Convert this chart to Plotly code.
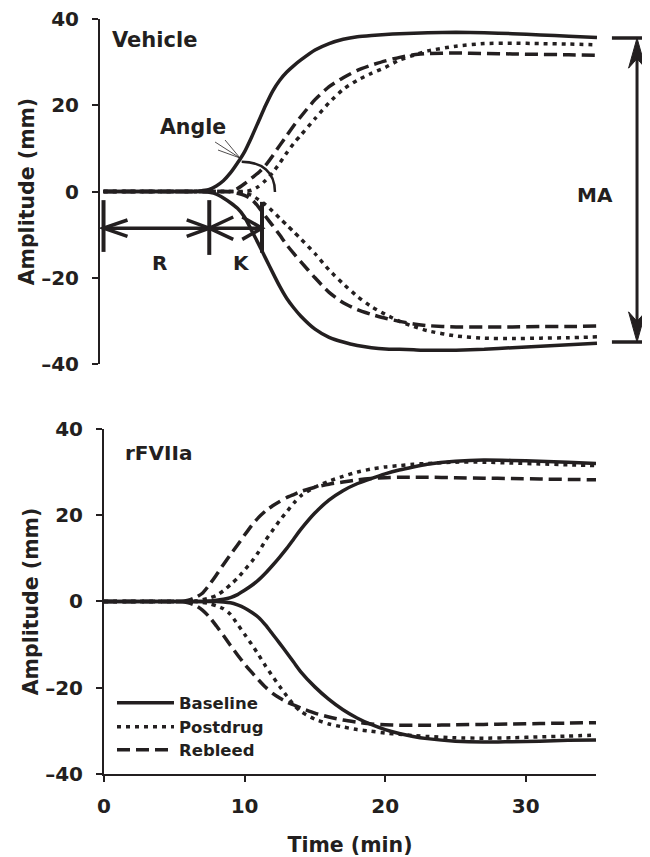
import plotly.graph_objects as go

# ---------------- data ----------------
time_min = [0, 5, 5.5, 6, 6.5, 7, 7.5, 8, 8.5, 9, 9.5, 10, 10.5, 11, 11.5, 12, 12.5,
            13, 13.5, 14, 15, 16, 17, 18, 19, 20, 21, 22, 23, 25, 27, 29, 31, 33, 35]

# Vehicle panel
veh_baseline_upper = [0, 0, 0, 0, 0, 0.2, 0.5, 1.3, 2.5, 4.3, 6.6, 9.2, 12.6, 16.3, 20, 23.3, 25.8,
                      27.7, 29.2, 30.5, 32.8, 34.3, 35.3, 35.9, 36.2, 36.4, 36.6, 36.7, 36.8, 36.9,
                      36.8, 36.6, 36.3, 36.0, 35.7]
veh_baseline_lower = [0, 0, 0, 0, 0, 0, -0.2, -0.6, -1.5, -2.6, -3.9, -5.9, -9, -12.2, -15.5, -18.8,
                      -22, -24.8, -27, -28.9, -31.9, -33.8, -34.9, -35.7, -36.2, -36.5, -36.6, -36.7,
                      -36.8, -36.8, -36.6, -36.2, -35.9, -35.5, -35.2]
veh_postdrug_upper = [0, 0, 0, 0, 0, 0, 0, 0, 0, 0, 0, 0, 0.3, 1.2, 2.6, 4.4, 6.6, 9, 11.2, 13.1,
                      16.9, 20.6, 23.7, 25.8, 27.4, 28.8, 30.5, 31.6, 32.6, 33.7, 34.3, 34.4, 34.3,
                      34.2, 34.0]
veh_postdrug_lower = [0, 0, 0, 0, 0, 0, 0, 0, 0, 0, 0, -0.3, -0.9, -1.9, -3.1, -4.6, -6.2, -7.8, -9.4,
                      -11, -14.4, -18.2, -21.4, -24.3, -26.7, -28.5, -30.1, -31.3, -32.3, -33.5, -34,
                      -34.1, -34, -33.9, -33.7]
veh_rebleed_upper = [0, 0, 0, 0, 0, 0, 0, 0, 0, 0.1, 0.7, 1.8, 3.1, 4.4, 6.1, 8.3, 10.7, 13, 15.3,
                     17.4, 21.3, 24.3, 26.4, 28.1, 29.3, 30.3, 31.1, 31.7, 32.0, 32.1, 32.0, 31.9,
                     31.8, 31.7, 31.6]
veh_rebleed_lower = [0, 0, 0, 0, 0, 0, 0, 0, 0, -0.1, -0.4, -0.9, -1.8, -3.6, -5.8, -7.9, -10.1,
                     -12.4, -14.4, -16.3, -20, -23.4, -25.8, -27.4, -28.5, -29.4, -30.1, -30.7,
                     -31.1, -31.4, -31.4, -31.4, -31.3, -31.3, -31.2]

# rFVIIa panel
rf_baseline_upper = [0, 0, 0, 0, 0, 0, 0.1, 0.3, 0.5, 0.9, 1.6, 2.6, 3.7, 5, 6.6, 8.4, 10.3, 12.3,
                     14.5, 16.7, 20.5, 23.5, 25.7, 27.3, 28.5, 29.6, 30.5, 31.2, 31.8, 32.5, 32.8,
                     32.7, 32.5, 32.3, 32.0]
rf_baseline_lower = [0, 0, 0, 0, 0, 0, 0, 0, -0.1, -0.3, -0.8, -1.5, -2.5, -3.7, -5.5, -7.6, -9.7,
                     -11.9, -14.1, -16.3, -19.8, -22.7, -25.1, -27, -28.5, -29.7, -30.6, -31.3,
                     -31.8, -32.4, -32.6, -32.5, -32.4, -32.2, -32.1]
rf_postdrug_upper = [0, 0, 0, 0, 0.1, 0.4, 0.8, 1.4, 2.5, 3.9, 5.4, 7.3, 9.2, 11.5, 14.2, 16.5, 18.8,
                     20.8, 22.8, 24.5, 26.5, 27.9, 29, 30, 30.7, 31.2, 31.5, 31.8, 32, 32.3, 32.3,
                     32.1, 31.9, 31.7, 31.5]
rf_postdrug_lower = [0, 0, 0, 0, 0, -0.2, -0.5, -1, -1.7, -3, -5.3, -7.6, -9.9, -12.4, -15, -17.4,
                     -19.7, -21.9, -24, -25.5, -27.3, -28.4, -29.1, -29.7, -30.1, -30.5, -30.8,
                     -31.1, -31.3, -31.6, -31.7, -31.6, -31.4, -31.2, -31.0]
rf_rebleed_upper = [0, 0, 0, 0.3, 0.9, 1.9, 3.9, 6.2, 8.6, 10.9, 13.1, 15.4, 17.6, 19.5, 21, 22.2,
                    23.2, 24.1, 24.8, 25.5, 26.5, 27.2, 27.7, 28.2, 28.5, 28.7, 28.8, 28.8, 28.8,
                    28.7, 28.6, 28.5, 28.4, 28.3, 28.2]
rf_rebleed_lower = [0, 0, 0, -0.3, -0.9, -2, -3.6, -5.7, -7.9, -10.2, -12.4, -14.5, -16.4, -18.2,
                    -19.9, -21.3, -22.4, -23.3, -24, -24.7, -25.9, -26.8, -27.5, -28, -28.4, -28.6,
                    -28.7, -28.7, -28.7, -28.6, -28.5, -28.4, -28.3, -28.2, -28.1]

series_names = ["Baseline", "Postdrug", "Rebleed"]
y_tickvals = [-40, -20, 0, 20, 40]
y_ticktext = ["\u201340", "\u201320", "0", "20", "40"]
x_ticks = [0, 10, 20, 30]

# ---------------- styling ----------------
INK = "#231f20"
FONT = "DejaVu Sans, Liberation Sans, Arial, sans-serif"
LW = 3.5
dash_of = {"Baseline": "solid", "Postdrug": "4px,5px", "Rebleed": "13px,6px"}
legend_of = {"Baseline": "legend", "Postdrug": "legend2", "Rebleed": "legend3"}

panels = [
    ("x", "y", {"Baseline": (veh_baseline_upper, veh_baseline_lower),
                "Postdrug": (veh_postdrug_upper, veh_postdrug_lower),
                "Rebleed": (veh_rebleed_upper, veh_rebleed_lower)}),
    ("x2", "y2", {"Baseline": (rf_baseline_upper, rf_baseline_lower),
                  "Postdrug": (rf_postdrug_upper, rf_postdrug_lower),
                  "Rebleed": (rf_rebleed_upper, rf_rebleed_lower)}),
]

fig = go.Figure()
for xa, ya, data in panels:
    for name in series_names:
        up, lo = data[name]
        for k, vals in enumerate((up, lo)):
            fig.add_trace(go.Scatter(
                x=time_min, y=vals, xaxis=xa, yaxis=ya, mode="lines", name=name,
                legendgroup=name, legend=legend_of[name],
                showlegend=(xa == "x2" and k == 0),
                line=dict(color=INK, width=LW, dash=dash_of[name], shape="spline", smoothing=0.6),
                hoverinfo="skip"))

tickfont = dict(family=FONT, size=20, color=INK, weight="bold")
titlefont = dict(family=FONT, size=20.5, color=INK, weight="bold")
axis_common = dict(showline=True, linewidth=2, linecolor=INK, ticks="outside", ticklen=6,
                   tickwidth=2, tickcolor=INK, showgrid=False, zeroline=False, tickfont=tickfont,
                   ticklabeloverflow="allow")

leg_common = dict(xanchor="left", yanchor="middle", bgcolor="rgba(0,0,0,0)",
                  font=dict(family=FONT, size=16.5, color=INK, weight="bold"), itemwidth=57)

fig.update_layout(
    width=642, height=849,
    margin=dict(l=92, r=0, t=11, b=83),
    paper_bgcolor="white", plot_bgcolor="white",
    showlegend=True,
    xaxis=dict(domain=[0, 1], range=[-0.25, 38.76], visible=False, anchor="y"),
    yaxis=dict(domain=[0.543, 1], range=[-40, 40], anchor="x", tickvals=y_tickvals,
               ticktext=y_ticktext, ticklabelstandoff=9,
               title=dict(text="Amplitude (mm)", font=titlefont, standoff=1), **axis_common),
    xaxis2=dict(domain=[0.00727, 0.9018], range=[0, 35], anchor="y2", tickvals=x_ticks,
                ticklabelstandoff=7,
                title=dict(text="Time (min)", font=titlefont, standoff=21), **axis_common),
    yaxis2=dict(domain=[0, 0.457], range=[-40, 40], anchor="x2", tickvals=y_tickvals,
                ticktext=y_ticktext, ticklabelstandoff=9,
                title=dict(text="Amplitude (mm)", font=titlefont, standoff=1), **axis_common),
    legend=dict(x=0.0218, y=0.0940, **leg_common),
    legend2=dict(x=0.0218, y=0.0622, **leg_common),
    legend3=dict(x=0.0218, y=0.0318, **leg_common),
)

# ---------------- annotation graphics in the Vehicle panel ----------------
def seg(x0, y0, x1, y1, w=3.5):
    fig.add_shape(type="line", xref="x", yref="y", x0=x0, y0=y0, x1=x1, y1=y1,
                  line=dict(color=INK, width=w))

def polyline(pts, w=3.5, fill=None, close=False):
    p = "M" + " L".join(f"{a},{b}" for a, b in pts) + (" Z" if close else "")
    fig.add_shape(type="path", xref="x", yref="y", path=p,
                  line=dict(color=INK, width=w), fillcolor=fill if fill else "rgba(0,0,0,0)")

r_end, k_end, arr_y = 7.5, 11.24, -8.5
seg(0, -2, 0, -14, 4)
seg(r_end, -2, r_end, -14.7, 4)
seg(k_end, -2.4, k_end, -14.2, 4)
seg(0, arr_y, k_end, arr_y, 3.5)
polyline([(1.7, arr_y + 1.9), (0, arr_y), (1.7, arr_y - 1.9)])
polyline([(r_end - 1.6, arr_y + 1.9), (r_end, arr_y), (r_end - 1.6, arr_y - 1.9)])
polyline([(r_end + 1.7, arr_y + 2.6), (r_end, arr_y), (r_end + 1.7, arr_y - 2.6)])
polyline([(k_end - 1.4, arr_y + 2.6), (k_end, arr_y), (k_end - 1.4, arr_y - 2.6)])

# angle arc and pointer
fig.add_shape(type="path", xref="x", yref="y",
              path="M9.8,6.91 C11.24,6.84 12.16,4.52 12.16,-0.12",
              line=dict(color=INK, width=2.5))
for sx, sy in [(7.91, 11.48), (8.62, 11.94), (8.12, 9.62)]:
    seg(sx, sy, 9.68, 7.77, 0.8)

# MA arrow
ma_x, ma_top, ma_bot = 37.84, 35.6, -34.9
seg(36.06, ma_top, 38.9, ma_top, 3.5)
seg(36.06, ma_bot, 38.9, ma_bot, 3.5)
seg(ma_x, ma_top - 4, ma_x, ma_bot + 4, 3)
polyline([(ma_x, ma_top), (ma_x - 0.6, 28.6), (ma_x, 30.8), (ma_x + 0.6, 28.6)],
         w=1, fill=INK, close=True)
polyline([(ma_x, ma_bot), (ma_x - 0.6, -27.9), (ma_x, -30.1), (ma_x + 0.6, -27.9)],
         w=1, fill=INK, close=True)

def label(text, x, y, xa="x", ya="y", anchor="center", size=20):
    fig.add_annotation(text=text, x=x, y=y, xref=xa, yref=ya, showarrow=False,
                       xanchor=anchor, yanchor="middle",
                       font=dict(family=FONT, size=size, color=INK, weight="bold"))

label("Vehicle", 0.46, 35.1, anchor="left", size=21)
label("rFVIIa", 1.35, 34.4, xa="x2", ya="y2", anchor="left", size=20)
label("Angle", 6.35, 15.0, size=20.5)
label("R", 4.0, -16.6)
label("K", 9.82, -16.6)
label("MA", 34.86, -0.8)

fig.write_html("out.html")
